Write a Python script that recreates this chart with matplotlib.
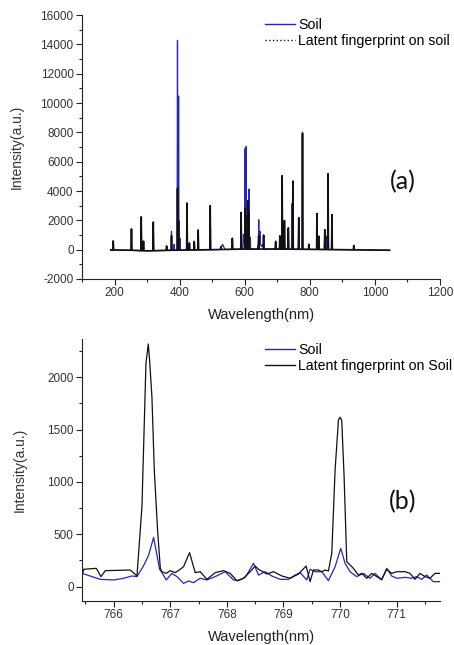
#!/usr/bin/env python3
"""
LIBS spectra of soil vs latent fingerprint on soil
(a) full spectrum, (b) zoom on the K I doublet around 766-770 nm
"""

import numpy as np
import matplotlib
matplotlib.use('Agg')
import matplotlib.pyplot as plt
from matplotlib.lines import Line2D
from matplotlib.ticker import MultipleLocator

plt.rcParams['font.family'] = ['Liberation Sans', 'DejaVu Sans']
plt.rcParams['axes.unicode_minus'] = False

# ---- panel (a): emission lines (nm, intensity) ----
SOIL_PEAK_NM = [196, 252, 282, 289, 319, 360, 375, 383, 393.4, 396.8, 401, 422.7, 430, 445, 457,
                494, 562, 589, 596, 601, 604.5, 610, 613, 617, 643, 647, 658, 695, 708, 715, 722,
                734, 745, 748, 766, 777.5, 797, 822, 828, 846, 851, 856, 868, 935]
SOIL_PEAK_INT = [630, 1450, 2300, 650, 1950, 300, 1300, 400, 14300, 10500, 800, 3200, 500, 600, 1350,
                 3000, 750, 2500, 1000, 6850, 7000, 3300, 4100, 800, 2000, 1200, 950, 550, 900, 5000, 1900,
                 1400, 3100, 4600, 2150, 7990, 300, 2400, 900, 1350, 900, 5200, 2350, 250]

# broad humps under the soil lines
SOIL_HUMP_NM = [532, 600, 609, 645, 655, 720]
SOIL_HUMP_INT = [350, 900, 700, 600, 300, 250]

FP_PEAK_NM = [196, 252, 282, 289, 319, 360, 375, 393.4, 396.8, 422.7, 430, 445, 457, 494, 527, 562,
              589, 601, 604.5, 610, 613, 643, 658, 695, 708, 715, 722, 734, 748, 766, 777.5, 797,
              822, 828, 846, 856, 868, 935]
FP_PEAK_INT = [600, 1450, 2300, 650, 1950, 300, 1000, 4200, 2000, 3200, 450, 550, 1350, 3000, 200, 750,
               2500, 2800, 2300, 3300, 2500, 900, 950, 500, 900, 5000, 1950, 1450, 4650, 2150, 7900, 350,
               2450, 900, 1350, 5100, 2380, 300]

BASELINE_NM = [188, 250, 300, 400, 500, 600, 700, 800, 900, 1045]
BASELINE_INT = [-20, -40, -80, -30, 0, 40, 40, 20, 0, -40]

# ---- panel (b): zoom 765.4 - 771.8 nm ----
ZOOM_SOIL_NM = [765.441, 765.765, 766.0, 766.176, 766.324, 766.412, 766.529, 766.618, 766.706,
                766.812, 766.853, 766.929, 767.029, 767.118, 767.235, 767.324, 767.412, 767.529,
                767.647, 767.794, 767.971, 768.118, 768.206, 768.324, 768.471, 768.559, 768.676,
                768.794, 768.941, 769.088, 769.206, 769.294, 769.412, 769.471, 769.559, 769.676,
                769.794, 769.912, 770.012, 770.088, 770.176, 770.294, 770.412, 770.529, 770.618,
                770.735, 770.824, 770.912, 771.0, 771.147, 771.265, 771.353, 771.441, 771.529,
                771.647, 771.765]
ZOOM_SOIL_INT = [127, 70, 64, 80, 102, 96, 200, 300, 471,
                 166, 134, 64, 127, 96, 32, 54, 38, 80,
                 64, 96, 143, 64, 57, 89, 223, 111, 143,
                 102, 70, 70, 111, 134, 64, 166, 143, 143,
                 57, 191, 366, 223, 143, 96, 127, 80, 127,
                 64, 175, 102, 80, 89, 80, 96, 70, 111,
                 48, 48]

ZOOM_FP_NM = [765.441, 765.471, 765.694, 765.776, 765.853, 766.294, 766.412, 766.5, 766.571, 766.612,
              766.635, 766.676, 766.718, 766.776, 766.824, 766.853, 766.929, 767.0, 767.088, 767.176,
              767.235, 767.341, 767.441, 767.529, 767.647, 767.794, 767.941, 768.059, 768.176, 768.294,
              768.412, 768.5, 768.559, 768.706, 768.824, 768.971, 769.118, 769.265, 769.4, 769.471,
              769.529, 769.618, 769.676, 769.735, 769.794, 769.853, 769.912, 769.971, 770.0, 770.029,
              770.071, 770.118, 770.235, 770.324, 770.382, 770.471, 770.559, 770.647, 770.735, 770.824,
              770.912, 771.0, 771.147, 771.235, 771.324, 771.412, 771.5, 771.588, 771.676, 771.765]
ZOOM_FP_INT = [100, 166, 175, 96, 153, 159, 102, 764, 2137, 2318,
               2165, 1815, 1114, 541, 178, 143, 127, 153, 134, 166,
               191, 325, 134, 143, 70, 134, 153, 127, 57, 80,
               143, 197, 166, 121, 143, 102, 80, 121, 197, 48,
               159, 159, 143, 159, 150, 318, 1115, 1592, 1618, 1590,
               1051, 239, 175, 111, 127, 80, 127, 96, 70, 166,
               127, 143, 143, 127, 70, 127, 96, 80, 127, 127]

LABELS_A = ['Soil', 'Latent fingerprint on soil']
LABELS_B = ['Soil', 'Latent fingerprint on Soil']

BLUE = '#2626b8'
BLACK = '#111111'
TICK_GRAY = '#333333'


def build_spectrum(peak_nm, peak_int, hump_nm=(), hump_int=(), half_width=1.2, hump_width=7.0):
    """Line spectrum = baseline + narrow triangular lines + broad humps"""
    xs = list(BASELINE_NM)
    for p in peak_nm:
        xs += [p - half_width, p, p + half_width]
    for p in hump_nm:
        xs += [p - hump_width, p, p + hump_width]
    xs = np.unique(xs)
    extra = np.zeros_like(xs)
    for p, h in zip(peak_nm, peak_int):
        extra = np.maximum(extra, np.clip(1 - np.abs(xs - p) / half_width, 0, None) * h)
    for p, h in zip(hump_nm, hump_int):
        extra = np.maximum(extra, np.clip(1 - np.abs(xs - p) / hump_width, 0, None) * h)
    return xs, np.interp(xs, BASELINE_NM, BASELINE_INT) + extra


def style_axes(ax):
    """Origin-like axes: only left/bottom spines, ticks outward"""
    for side in ('top', 'right'):
        ax.spines[side].set_visible(False)
    for side in ('left', 'bottom'):
        ax.spines[side].set_linewidth(0.8)
        ax.spines[side].set_color('#222222')
    ax.tick_params(which='both', direction='out', labelsize=8.5,
                   labelcolor=TICK_GRAY, color='#222222', width=0.8)
    ax.tick_params(which='major', length=4, pad=2)
    ax.tick_params(which='minor', length=2.5)


def add_legend(ax, fig, labels, fp_style, top_y):
    handles = [Line2D([], [], color=BLUE, lw=1.0),
               Line2D([], [], color=BLACK, lw=1.0, ls=fp_style)]
    ax.legend(handles, labels, loc='upper left',
              bbox_to_anchor=(265 / 454, top_y), bbox_transform=fig.transFigure,
              frameon=False, fontsize=10.2, handlelength=2.1, handletextpad=0.25,
              borderpad=0, borderaxespad=0, labelspacing=0.12)


def main():
    fig = plt.figure(figsize=(4.54, 6.45), dpi=100)

    # ---- (a) ----
    ax1 = fig.add_axes([82 / 454, 1 - 279 / 645, 358 / 454, 264 / 645])
    sx, sy = build_spectrum(SOIL_PEAK_NM, SOIL_PEAK_INT, SOIL_HUMP_NM, SOIL_HUMP_INT)
    fx, fy = build_spectrum(FP_PEAK_NM, FP_PEAK_INT)
    ax1.plot(sx, sy, color=BLUE, lw=0.9)
    ax1.plot(fx, fy, color=BLACK, lw=1.2)
    ax1.set_xlim(100, 1200)
    ax1.set_ylim(-2000, 16000)
    ax1.xaxis.set_major_locator(MultipleLocator(200))
    ax1.xaxis.set_minor_locator(MultipleLocator(100))
    ax1.yaxis.set_major_locator(MultipleLocator(2000))
    ax1.yaxis.set_minor_locator(MultipleLocator(1000))
    style_axes(ax1)
    ax1.set_xlabel('Wavelength(nm)', fontsize=10.5, color='#222222', labelpad=6)
    ax1.set_ylabel('Intensity(a.u.)', fontsize=10, color='#333333', labelpad=12)
    ax1.text(403 / 454, 1 - 182 / 645, '(a)', transform=fig.transFigure,
             fontsize=18, family=['Lato', 'DejaVu Sans'], ha='center', va='center', color='#111111')
    add_legend(ax1, fig, LABELS_A, ':', 1 - 18 / 645)

    # ---- (b) ----
    ax2 = fig.add_axes([82 / 454, 1 - 601 / 645, 358 / 454, 262 / 645])
    ax2.plot(ZOOM_SOIL_NM, ZOOM_SOIL_INT, color=BLUE, lw=0.9)
    ax2.plot(ZOOM_FP_NM, ZOOM_FP_INT, color=BLACK, lw=0.9)
    ax2.set_xlim(765.441, 771.765)
    ax2.set_ylim(-137, 2366)
    ax2.xaxis.set_major_locator(MultipleLocator(1))
    ax2.xaxis.set_minor_locator(MultipleLocator(0.5))
    ax2.yaxis.set_major_locator(MultipleLocator(500))
    ax2.yaxis.set_minor_locator(MultipleLocator(250))
    style_axes(ax2)
    ax2.set_xlabel('Wavelength(nm)', fontsize=10.5, color='#222222', labelpad=6)
    ax2.set_ylabel('Intensity(a.u.)', fontsize=10, color='#333333', labelpad=15)
    ax2.text(403 / 454, 1 - 502 / 645, '(b)', transform=fig.transFigure,
             fontsize=18, family=['Lato', 'DejaVu Sans'], ha='center', va='center', color='#111111')
    add_legend(ax2, fig, LABELS_B, '-', 1 - 343 / 645)

    fig.savefig('out.png', dpi=100, facecolor='white')


if __name__ == "__main__":
    main()
